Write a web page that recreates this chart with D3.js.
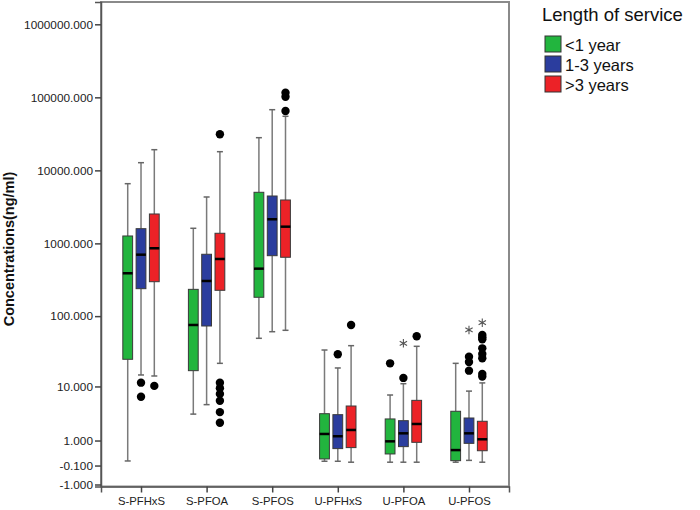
<!DOCTYPE html>
<html><head><meta charset="utf-8">
<script src="https://cdn.jsdelivr.net/npm/d3@7"></script>
<style>
html,body{margin:0;padding:0;background:#fff;}
svg{display:block;font-family:"Liberation Sans",Arial,sans-serif;}
</style></head>
<body><svg id="chart" width="700" height="510"></svg>
<script>
// ---- data ----
const categories = ["S-PFHxS","S-PFOA","S-PFOS","U-PFHxS","U-PFOA","U-PFOS"];
const groups = ["<1 year","1-3 years",">3 years"];
const groupColors = ["#22b53e","#2b3d9e","#ec2227"];
// [lower whisker, Q1, median, Q3, upper whisker]
const lt1Stats = [
  [0.05, 24.9, 389, 1263, 6570],
  [3.6, 17.1, 75.4, 234, 1610],
  [49.2, 182, 450, 5010, 28020],
  [0.04, 0.12, 1.46, 3.66, 33.7],
  [0.01, 0.31, 0.95, 2.95, 7.4],
  [0.01, 0.06, 0.48, 4.03, 21.8]
];
const y13Stats = [
  [14.8, 239, 700, 1590, 12740],
  [5.2, 73, 305, 709, 4320],
  [60.8, 678, 2139, 4457, 67730],
  [0.04, 0.55, 1.29, 3.52, 18.7],
  [0.01, 0.65, 1.51, 2.74, 11.0],
  [0.07, 0.83, 1.51, 3.07, 8.5]
];
const gt3Stats = [
  [14.3, 298, 857, 2528, 19190],
  [21.8, 227, 611, 1376, 18020],
  [63.6, 645, 1694, 3931, 55000],
  [0.01, 0.6, 1.79, 4.94, 38.8],
  [0.01, 0.89, 2.37, 6.1, 38.0],
  [0.01, 0.45, 1.08, 2.67, 11.3]
];
const lt1Outliers = [[], [], [], [], [21.8], []];
const y13Outliers = [[11.4, 6.97], [], [], [29.3], [13.4], [27.1, 22.8, 17.1]];
const gt3Outliers = [[10.2], [31190, 11.4, 9.4, 7.7, 6.0, 3.9, 2.5], [115760, 102000, 65010], [75.4], [52.5],
  [54.8, 50.8, 47.7, 35.6, 29.6, 25.7, 15.3, 14.0]];
const lt1Extremes = [[], [], [], [], [], []];
const y13Extremes = [[], [], [], [], [41.9], [64.3]];
const gt3Extremes = [[], [], [], [], [], [81.1]];
const yTicks = [1000000, 100000, 10000, 1000, 100, 10, 1, -0.1, -1];
const yTitle = "Concentrations(ng/ml)";
const legendTitle = "Length of service";

// ---- layout ----
const svg = d3.select("#chart");
const L = 101, R = 509, T = 2, B = 486.5;

const y = d3.scaleSymlog().constant(1).domain([-1.13, 2.02e6]).range([B, T]);
const x = d3.scalePoint().domain(categories).range([L, R]).padding(0.61);
const sub = d3.scalePoint().domain(groups).range([-13.3, 13.3]);
const boxW = 9.8;

const series = [
  {name: groups[0], color: groupColors[0], stats: lt1Stats, out: lt1Outliers, ext: lt1Extremes},
  {name: groups[1], color: groupColors[1], stats: y13Stats, out: y13Outliers, ext: y13Extremes},
  {name: groups[2], color: groupColors[2], stats: gt3Stats, out: gt3Outliers, ext: gt3Extremes}
];

// frame
svg.append("rect").attr("x", L).attr("y", T).attr("width", R - L).attr("height", B - T)
  .attr("fill", "none").attr("stroke", "#8a8a8a").attr("stroke-width", 2);

// boxes
series.forEach(s => {
  const g = svg.append("g");
  categories.forEach((c, i) => {
    const [lo, q1, md, q3, hi] = s.stats[i];
    const cx = x(c) + sub(s.name);
    g.append("line").attr("x1", cx).attr("x2", cx).attr("y1", y(hi)).attr("y2", y(q3))
      .attr("stroke", "#7a7a7a").attr("stroke-width", 1.5);
    g.append("line").attr("x1", cx).attr("x2", cx).attr("y1", y(q1)).attr("y2", y(lo))
      .attr("stroke", "#7a7a7a").attr("stroke-width", 1.5);
    [lo, hi].forEach(v => g.append("line").attr("x1", cx - 3).attr("x2", cx + 3)
      .attr("y1", y(v)).attr("y2", y(v)).attr("stroke", "#666").attr("stroke-width", 1.5));
    g.append("rect").attr("x", cx - boxW / 2).attr("y", y(q3)).attr("width", boxW)
      .attr("height", Math.max(0, y(q1) - y(q3))).attr("fill", s.color)
      .attr("stroke", "#3a3a3a").attr("stroke-width", 1);
    g.append("line").attr("x1", cx - boxW / 2).attr("x2", cx + boxW / 2)
      .attr("y1", y(md)).attr("y2", y(md)).attr("stroke", "#000").attr("stroke-width", 2.5);
    s.out[i].forEach(v => g.append("circle").attr("cx", cx).attr("cy", y(v)).attr("r", 4.2).attr("fill", "#000"));
    s.ext[i].forEach(v => g.append("path").attr("transform", `translate(${cx},${y(v)})`)
      .attr("d", d3.symbol(d3.symbolAsterisk, 50)()).attr("fill", "none")
      .attr("stroke", "#555").attr("stroke-width", 1.1));
  });
});

// axes
const fmt = d3.format(".3f");
const yAxis = d3.axisLeft(y).tickValues(yTicks).tickFormat(d => fmt(d).replace("\u2212", "-")).tickSize(6).tickPadding(2);
const ga = svg.append("g").attr("transform", `translate(${L},0)`).call(yAxis);
ga.select(".domain").attr("stroke", "#555").attr("stroke-width", 1.5);
ga.selectAll(".tick line").attr("stroke", "#444").attr("stroke-width", 1.5);
ga.selectAll(".tick text").attr("font-size", 11.8).attr("fill", "#222")
  .attr("font-family", "'Liberation Sans',Arial,sans-serif");

const xAxis = d3.axisBottom(x).tickSize(6).tickPadding(4);
const gx = svg.append("g").attr("transform", `translate(0,${B})`).call(xAxis);
gx.select(".domain").attr("stroke", "#555").attr("stroke-width", 1.5);
gx.selectAll(".tick line").attr("stroke", "#444").attr("stroke-width", 1.5);
gx.selectAll(".tick text").attr("font-size", 11.3).attr("fill", "#222")
  .attr("font-family", "'Liberation Sans',Arial,sans-serif");

svg.append("text").attr("transform", "translate(13.5,249) rotate(-90)")
  .attr("text-anchor", "middle").attr("font-size", 14.5).attr("font-weight", "bold")
  .attr("fill", "#111").text(yTitle);

// legend
svg.append("text").attr("x", 542).attr("y", 21).attr("font-size", 18.5).attr("fill", "#111").text(legendTitle);
const lg = svg.append("g").selectAll("g").data(series).join("g")
  .attr("transform", (d, i) => `translate(545,${36 + i * 20})`);
lg.append("rect").attr("width", 16).attr("height", 16).attr("fill", d => d.color)
  .attr("stroke", "#333").attr("stroke-width", 1);
lg.append("text").attr("x", 20).attr("y", 14.5).attr("font-size", 16.5).attr("fill", "#111").text(d => d.name);
</script></body></html>
